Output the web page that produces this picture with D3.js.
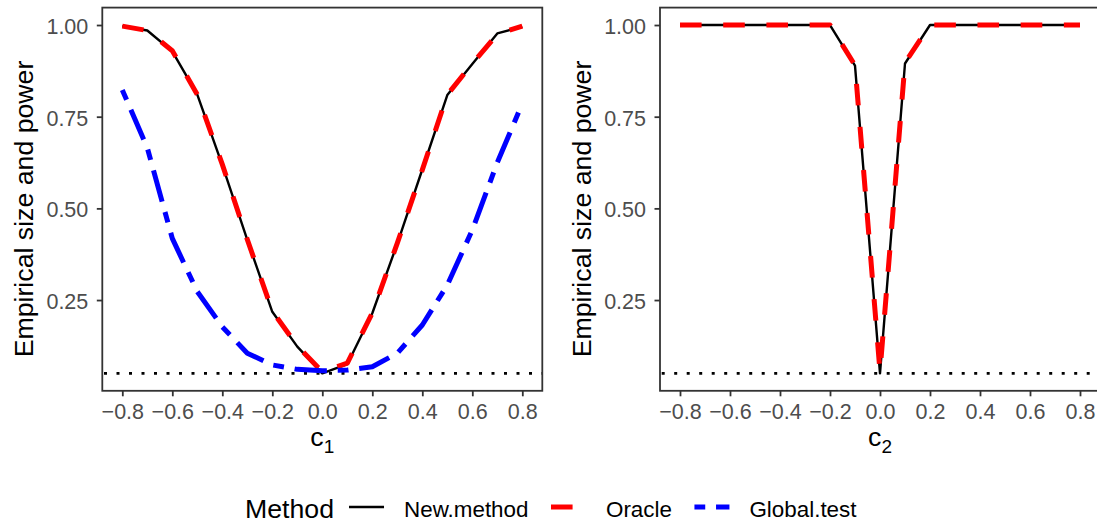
<!DOCTYPE html>
<html>
<head>
<meta charset="utf-8">
<script src="https://cdn.jsdelivr.net/npm/d3@7"></script>
<style>
  body { margin: 0; background: #fff; }
  svg { display: block; font-family: "Liberation Sans", Arial, sans-serif; }
</style>
</head>
<body>
<div id="chart"></div>
<script>
// grid of c values (same for both panels)
const cValues = [-0.8, -0.7, -0.6, -0.5, -0.4, -0.3, -0.2, -0.1, 0.0, 0.1, 0.2, 0.3, 0.4, 0.5, 0.6, 0.7, 0.8];

// panel 1 (c1)
const newMethod1 = [0.997, 0.985, 0.928, 0.81, 0.618, 0.414, 0.218, 0.123, 0.05, 0.075, 0.214, 0.404, 0.606, 0.809, 0.894, 0.977, 0.995];
const oracle1    = [0.997, 0.985, 0.93, 0.81, 0.62, 0.415, 0.22, 0.125, 0.054, 0.078, 0.215, 0.405, 0.605, 0.81, 0.895, 0.975, 0.997];
const global1    = [0.823, 0.665, 0.418, 0.273, 0.177, 0.105, 0.073, 0.061, 0.057, 0.059, 0.068, 0.105, 0.182, 0.291, 0.441, 0.625, 0.786];

// panel 2 (c2)
const newMethod2 = [1, 1, 1, 1, 1, 1, 1, 0.889, 0.05, 0.895, 1, 1, 1, 1, 1, 1, 1];
const oracle2    = [1, 1, 1, 1, 1, 1, 1, 0.89, 0.055, 0.897, 1, 1, 1, 1, 1, 1, 1];

const nominalLevel = 0.05;
const xTicks = [-0.8, -0.6, -0.4, -0.2, 0.0, 0.2, 0.4, 0.6, 0.8];
const yTicks = [0.25, 0.50, 0.75, 1.00];
const methods = ["New.method", "Oracle", "Global.test"];

const width = 1097, height = 522;
const panelTop = 7.6, panelBottom = 390.8, panelWidth = 440;

// line styles per method
const styles = {
  "New.method":  { color: "#000000", width: 2.4, dash: null },
  "Oracle":      { color: "#FF0000", width: 5,   dash: "21.6 21.6" },
  "Global.test": { color: "#0000FF", width: 5,   dash: "10.8 10.8 32.4 10.8" }
};

const panels = [
  { left: 102.3, sub: "1", series: [["New.method", newMethod1], ["Oracle", oracle1], ["Global.test", global1]] },
  { left: 660,   sub: "2", series: [["New.method", newMethod2], ["Oracle", oracle2]] }
];

const svg = d3.select("#chart").append("svg")
  .attr("width", width)
  .attr("height", height)
  .attr("viewBox", [0, 0, width, height]);

const y = d3.scaleLinear()
  .domain([0.0025, 1.0475])
  .range([panelBottom, panelTop]);

panels.forEach(p => {
  const x = d3.scaleLinear()
    .domain([-0.88, 0.88])
    .range([p.left, p.left + panelWidth]);

  const g = svg.append("g");

  // dotted reference line at the nominal level
  g.append("line")
    .attr("x1", x.range()[0]).attr("x2", x.range()[1])
    .attr("y1", y(nominalLevel)).attr("y2", y(nominalLevel))
    .attr("stroke", "#000")
    .attr("stroke-width", 2.6)
    .attr("stroke-dasharray", "3 9.5")
    .attr("stroke-dashoffset", -1.7);

  const line = d3.line()
    .x((d, i) => x(cValues[i]))
    .y(d => y(d));

  p.series.forEach(([name, vals]) => {
    const s = styles[name];
    g.append("path")
      .datum(vals)
      .attr("d", line)
      .attr("fill", "none")
      .attr("stroke", s.color)
      .attr("stroke-width", s.width)
      .attr("stroke-dasharray", s.dash)
      .attr("stroke-linejoin", "round");
  });

  // y axis
  g.append("g")
    .attr("transform", `translate(${p.left},0)`)
    .call(d3.axisLeft(y).tickValues(yTicks).tickFormat(d3.format(".2f")).tickSize(5.5).tickPadding(8.5))
    .call(a => a.select(".domain").remove())
    .call(a => a.selectAll(".tick line").attr("stroke", "#333").attr("stroke-width", 1.8))
    .call(a => a.selectAll(".tick text")
      .attr("fill", "#4D4D4D").attr("font-size", 21.5).attr("dy", "0.4em")
      .attr("font-family", "Liberation Sans, Arial, sans-serif"));

  // x axis
  g.append("g")
    .attr("transform", `translate(0,${panelBottom})`)
    .call(d3.axisBottom(x).tickValues(xTicks).tickFormat(d3.format(".1f")).tickSize(5.5).tickPadding(7.4))
    .call(a => a.select(".domain").remove())
    .call(a => a.selectAll(".tick line").attr("stroke", "#333").attr("stroke-width", 1.8))
    .call(a => a.selectAll(".tick text")
      .attr("fill", "#4D4D4D").attr("font-size", 21.5)
      .attr("font-family", "Liberation Sans, Arial, sans-serif"));

  // panel border
  g.append("rect")
    .attr("x", p.left).attr("y", panelTop)
    .attr("width", panelWidth).attr("height", panelBottom - panelTop)
    .attr("fill", "none")
    .attr("stroke", "#333")
    .attr("stroke-width", 1.8);

  // x title c_k
  const xt = g.append("text")
    .attr("x", p.left + panelWidth / 2)
    .attr("y", 446)
    .attr("text-anchor", "middle")
    .attr("font-size", 26.7)
    .attr("fill", "#000");
  xt.append("tspan").text("c");
  xt.append("tspan").attr("font-size", 19).attr("dy", 7).text(p.sub);

  // y title
  g.append("text")
    .attr("transform", `translate(${p.left - 69.5},209) rotate(-90)`)
    .attr("text-anchor", "middle")
    .attr("font-size", 26.7)
    .attr("fill", "#000")
    .text("Empirical size and power");
});

// legend at the bottom
const legend = svg.append("g");
const legendY = 507;
let cursor = 245;

const lt = legend.append("text")
  .attr("x", cursor).attr("y", 517.5)
  .attr("font-size", 26.7)
  .text("Method");
cursor += lt.node().getComputedTextLength() + 15;

methods.forEach(name => {
  const s = styles[name];
  legend.append("line")
    .attr("x1", cursor).attr("x2", cursor + 35)
    .attr("y1", legendY).attr("y2", legendY)
    .attr("stroke", s.color)
    .attr("stroke-width", s.width)
    .attr("stroke-dasharray", s.dash);
  cursor += 35 + 20;
  const t = legend.append("text")
    .attr("x", cursor).attr("y", 517)
    .attr("font-size", 22.4)
    .text(name);
  cursor += t.node().getComputedTextLength() + 22.5;
});
</script>
</body>
</html>
